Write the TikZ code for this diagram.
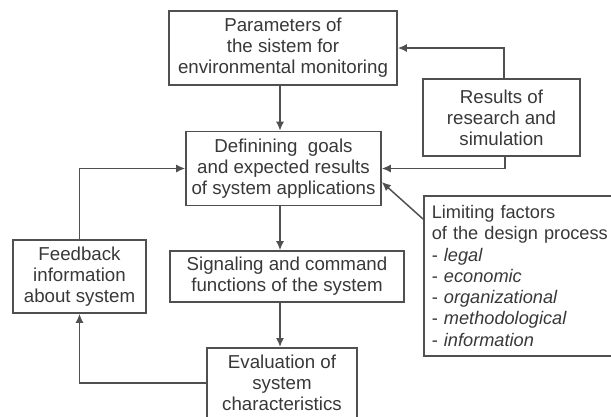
\documentclass[tikz,border=0pt]{standalone}
\usepackage{fontspec}
\setmainfont{Liberation Sans}
\usetikzlibrary{arrows.meta}
\definecolor{linec}{HTML}{505050}
\definecolor{textc}{HTML}{383838}
\begin{document}
\begin{tikzpicture}[x=1pt,y=-1pt,
  box/.style={draw=linec, line width=1.6pt, text=textc, align=center, inner sep=0pt,
    font=\fontsize{18.7}{21}\selectfont},
  arr/.style={draw=linec, line width=1.5pt, -{Latex[length=9pt,width=8pt]}}]
\useasboundingbox (0,0) rectangle (611,416);
\clip (0,0) rectangle (611,416);
\coordinate (axis) at (280,0);
\node[box, minimum width=228, minimum height=74] (params) at (283,48)
  {Parameters of\\the sistem for\\environmental monitoring};
\node[box, minimum width=157, minimum height=77] (res) at (501.5,117.5)
  {Results of\\research and\\simulation};
\node[box, minimum width=195, minimum height=74] (def) at (283.5,168.5)
  {Definining~ goals\\and expected results\\of system applications};
\node[box, minimum width=230, minimum height=160, anchor=north west, align=left,
  text width=214, inner xsep=6pt, font=\fontsize{18.2}{21.3}\selectfont] (lim) at (423,195)
  {Limiting factors\\of the design process\\- \textit{legal}\\- \textit{economic}\\- \textit{organizational}\\- \textit{methodological}\\- \textit{information}};
\node[box, minimum width=133, minimum height=73] (fb) at (79.5,276.5)
  {Feedback\\information\\about system};
\node[box, minimum width=234, minimum height=51] (sig) at (287,276.5)
  {Signaling and command\\functions of the system};
\node[box, minimum width=150, minimum height=70, anchor=north] (ev) at (282,347)
  {Evaluation of\\system\\characteristics};
\draw[arr] (params.south -| axis) -- (def.north -| axis);
\draw[arr] (def.south -| axis) -- (sig.north -| axis);
\draw[arr] (sig.south -| axis) -- (ev.north -| axis);
\draw[arr] ([xshift=2.5pt]res.north) |- (params.east);
\draw[arr] ([xshift=3.5pt]res.south) |- (def.east);
\draw[arr] ([yshift=-24pt]lim.north west) -- ([yshift=-13.5pt]def.east);
\draw[arr] (fb.north) |- (def.west);
\draw[arr] (ev.west) -| (fb.south);
\end{tikzpicture}
\end{document}
